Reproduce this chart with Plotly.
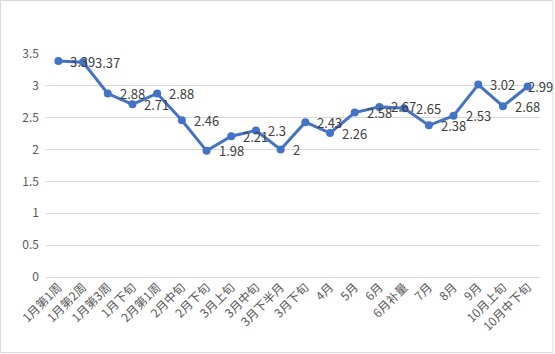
import plotly.graph_objects as go

categories = ["1月第1周", "1月第2周", "1月第3周", "1月下旬", "2月第1周", "2月中旬", "2月下旬",
              "3月上旬", "3月中旬", "3月下半月", "3月下旬", "4月", "5月", "6月", "6月补量",
              "7月", "8月", "9月", "10月上旬", "10月中下旬"]
values = [3.39, 3.37, 2.88, 2.71, 2.88, 2.46, 1.98, 2.21, 2.3, 2, 2.43, 2.26, 2.58, 2.67, 2.65,
          2.38, 2.53, 3.02, 2.68, 2.99]
y_ticks = [0, 0.5, 1, 1.5, 2, 2.5, 3, 3.5]
y_tick_text = ["0", "0.5", "1", "1.5", "2", "2.5", "3", "3.5"]

W, H = 555, 354
L, R, T, B = 46, 15, 54, 77
pw, ph = W - L - R, H - T - B

font_family = "Noto Sans CJK SC, Microsoft YaHei, sans-serif"

xs = list(range(len(categories)))

fig = go.Figure()
fig.add_trace(go.Scatter(
    x=xs, y=values,
    mode="lines+markers",
    line=dict(color="#4472C4", width=3),
    marker=dict(color="#4472C4", size=8),
    cliponaxis=False,
    hoverinfo="skip",
))

annotations = []
for i, v in zip(xs, values):
    last = (i == len(xs) - 1)
    annotations.append(dict(
        x=i, y=v, xref="x", yref="y",
        text=f"{v:g}", showarrow=False,
        xanchor="left", yanchor="middle",
        xshift=-2 if last else 10, yshift=0,
        font=dict(family=font_family, size=13, color="#404040"),
    ))

fig.update_layout(
    width=W, height=H,
    margin=dict(l=L, r=R, t=T, b=B),
    paper_bgcolor="white", plot_bgcolor="white",
    showlegend=False,
    font=dict(family=font_family, size=12, color="#595959"),
    annotations=annotations,
    xaxis=dict(
        range=[-0.5, len(categories) - 0.5],
        tickmode="array", tickvals=xs, ticktext=categories,
        tickangle=-45, showgrid=False, zeroline=False,
        showline=False, ticks="",
        tickfont=dict(family=font_family, size=12, color="#595959"),
        fixedrange=True,
    ),
    yaxis=dict(
        range=[0, 3.5],
        tickmode="array", tickvals=y_ticks, ticktext=y_tick_text,
        showgrid=True, gridcolor="#D9D9D9", gridwidth=1,
        zeroline=True, zerolinecolor="#D9D9D9", zerolinewidth=1,
        showline=False, ticks="", ticklabelstandoff=6,
        tickfont=dict(family=font_family, size=12, color="#595959"),
        fixedrange=True,
    ),
    shapes=[dict(
        type="rect", xref="paper", yref="paper",
        x0=(0.5 - L) / pw, x1=(553 - L) / pw,
        y0=(T + ph - 352.5) / ph, y1=(T + ph - 0.5) / ph,
        line=dict(color="#D9D9D9", width=1), fillcolor="rgba(0,0,0,0)", layer="below",
    )],
)

fig.write_html("out.html")
